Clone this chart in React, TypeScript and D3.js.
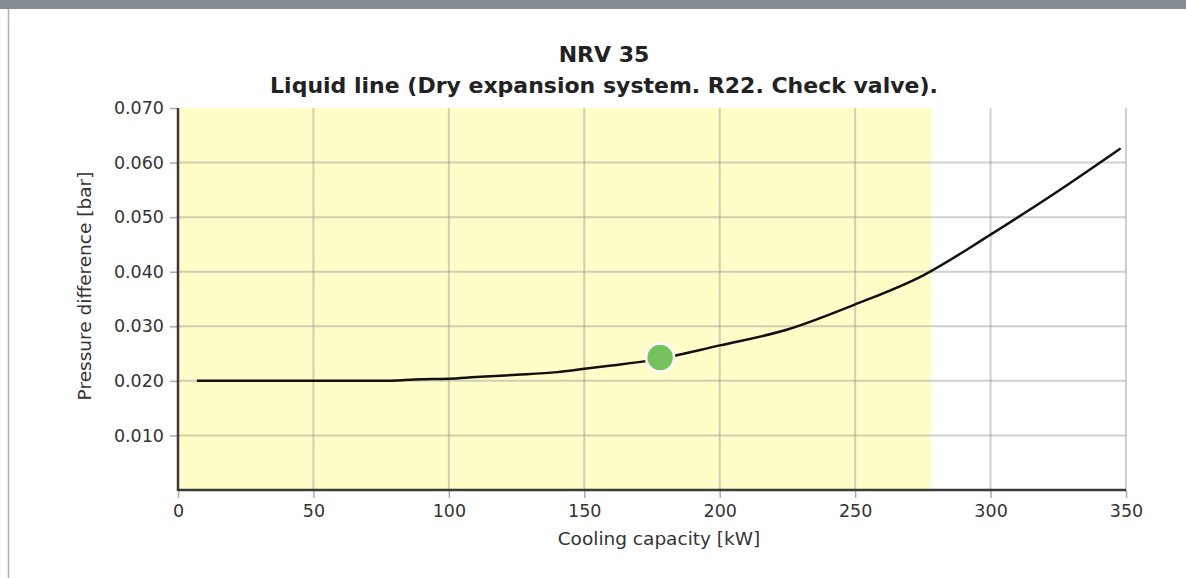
import React, { useEffect, useRef } from 'react';
import * as d3 from 'd3';

// Curve: cooling capacity [kW] vs pressure difference [bar]
const capacity = [7, 25, 50, 75, 90, 100, 110, 125, 140, 150, 160, 175, 200, 225, 250, 275, 300, 325, 348];
const pressure = [0.02, 0.02, 0.02, 0.02, 0.0203, 0.0204, 0.0207, 0.0211, 0.0216, 0.0222, 0.0228, 0.0238, 0.0265, 0.0294, 0.034, 0.0393, 0.0468, 0.0548, 0.0626];

const xTicks = [0, 50, 100, 150, 200, 250, 300, 350];
const yTicks = [0.01, 0.02, 0.03, 0.04, 0.05, 0.06, 0.07];

const operatingPoint = { capacity: 178, pressure: 0.0243 };
const rangeLimit = 278;

const titleLines = ['NRV 35', 'Liquid line (Dry expansion system. R22. Check valve).'];

const FONT = 'DejaVu Sans, Verdana, sans-serif';

const App = () => {
  const ref = useRef(null);

  useEffect(() => {
    d3.select(ref.current).selectAll('*').remove();

    const width = 1186;
    const height = 578;
    const margin = { top: 108, right: 60, bottom: 88, left: 178 };

    const svg = d3.select(ref.current)
      .append('svg')
      .attr('width', width)
      .attr('height', height)
      .style('position', 'absolute')
      .style('left', 0)
      .style('top', 0)
      .style('font-family', FONT);

    svg.append('rect').attr('width', width).attr('height', height).attr('fill', '#fff');

    // window frame
    svg.append('rect').attr('x', 0).attr('y', 0).attr('width', width).attr('height', 9).attr('fill', '#868c94');
    svg.append('line')
      .attr('x1', 8.5).attr('x2', 8.5).attr('y1', 9).attr('y2', height)
      .attr('stroke', '#a9b0b8').attr('stroke-width', 1.5);

    const x = d3.scaleLinear().domain([0, 350]).range([margin.left, width - margin.right]);
    const y = d3.scaleLinear().domain([0, 0.07]).range([height - margin.bottom, margin.top]);

    const x0 = x(0), x1 = x(350), yb = y(0), yt = y(0.07);

    // allowed range
    svg.append('rect')
      .attr('x', x0).attr('y', yt)
      .attr('width', x(rangeLimit) - x0).attr('height', yb - yt)
      .attr('fill', '#fffdc8');

    // grid
    const grid = 'rgba(150,150,150,0.45)';
    svg.append('g').selectAll('line')
      .data(xTicks.filter(d => d > 0))
      .enter().append('line')
      .attr('x1', d => x(d)).attr('x2', d => x(d))
      .attr('y1', yt).attr('y2', yb)
      .attr('stroke', grid).attr('stroke-width', 2);
    svg.append('g').selectAll('line')
      .data(yTicks.filter(d => d < 0.07))
      .enter().append('line')
      .attr('x1', x0).attr('x2', x1)
      .attr('y1', d => y(d)).attr('y2', d => y(d))
      .attr('stroke', grid).attr('stroke-width', 2);

    // axes
    svg.append('g')
      .attr('transform', `translate(${x0},0)`)
      .call(d3.axisLeft(y).tickValues(yTicks).tickSize(8).tickPadding(6).tickFormat(d3.format('.3f')))
      .call(g => g.select('.domain').remove())
      .call(g => g.selectAll('line').attr('stroke', '#aaa').attr('stroke-width', 1.5))
      .call(g => g.selectAll('text').attr('fill', '#333').attr('font-size', 17.5).attr('font-family', FONT));

    svg.append('g')
      .attr('transform', `translate(0,${yb})`)
      .call(d3.axisBottom(x).tickValues(xTicks).tickSize(8).tickPadding(7))
      .call(g => g.select('.domain').remove())
      .call(g => g.selectAll('line').attr('stroke', '#aaa').attr('stroke-width', 1.5))
      .call(g => g.selectAll('text').attr('fill', '#333').attr('font-size', 17.5).attr('font-family', FONT));

    svg.append('line').attr('x1', x0).attr('x2', x0).attr('y1', yt).attr('y2', yb + 1)
      .attr('stroke', '#3a3a3a').attr('stroke-width', 2.5);
    svg.append('line').attr('x1', x0).attr('x2', x1).attr('y1', yb).attr('y2', yb)
      .attr('stroke', '#3a3a3a').attr('stroke-width', 2.5);

    // curve
    const points = capacity.map((c, i) => [c, pressure[i]]);
    const line = d3.line()
      .x(d => x(d[0]))
      .y(d => y(d[1]))
      .curve(d3.curveMonotoneX);
    svg.append('path')
      .datum(points)
      .attr('d', line)
      .attr('fill', 'none')
      .attr('stroke', '#111')
      .attr('stroke-width', 2.5);

    // operating point
    svg.append('circle')
      .attr('cx', x(operatingPoint.capacity))
      .attr('cy', y(operatingPoint.pressure))
      .attr('r', 14)
      .attr('fill', '#74c25b')
      .attr('stroke', '#fff')
      .attr('stroke-width', 2.5);

    // titles
    svg.append('g').selectAll('text')
      .data(titleLines)
      .enter().append('text')
      .attr('x', 604)
      .attr('y', (d, i) => 62 + i * 31)
      .attr('text-anchor', 'middle')
      .attr('font-weight', 'bold')
      .attr('font-size', 22)
      .attr('fill', '#222')
      .text(d => d);

    svg.append('text')
      .attr('x', 659)
      .attr('y', 545)
      .attr('text-anchor', 'middle')
      .attr('font-size', 18.5)
      .attr('fill', '#333')
      .text('Cooling capacity [kW]');

    svg.append('text')
      .attr('transform', `translate(91,286) rotate(-90)`)
      .attr('text-anchor', 'middle')
      .attr('font-size', 18.5)
      .attr('fill', '#333')
      .text('Pressure difference [bar]');
  }, []);

  return <div ref={ref}></div>;
};

export default App;
